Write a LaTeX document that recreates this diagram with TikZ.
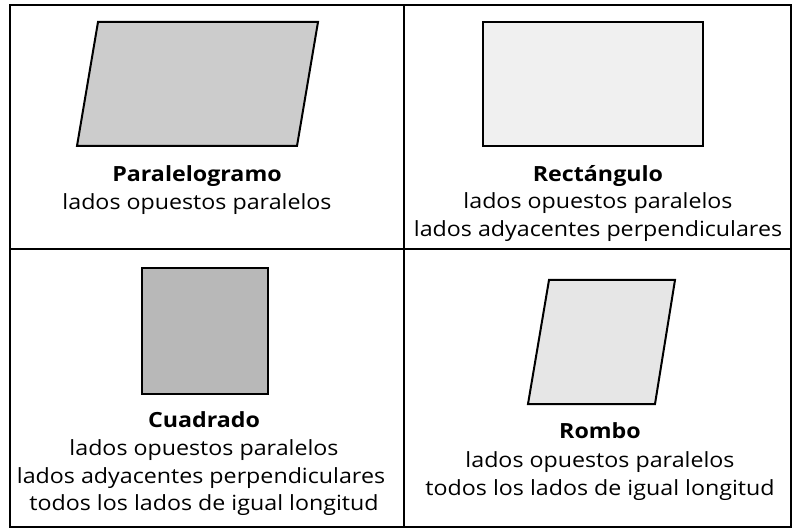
\documentclass[tikz,border=0pt]{standalone}
\usepackage{fontspec}
\setmainfont[FakeStretch=1.11]{Open Sans}
\begin{document}
\begin{tikzpicture}[x=1bp,y=-1bp,
  frame/.style={line width=2bp},
  shp/.style={draw,line width=2bp,line join=miter},
  txt/.style={anchor=base,inner sep=0pt,font=\fontsize{21}{24}\selectfont},
  ttl/.style={txt,font=\fontsize{21}{24}\selectfont\bfseries}]
\useasboundingbox (0,0) rectangle (793,529);
% grid
\draw[frame] (10,5) rectangle (791,527);
\draw[frame] (404,5) -- (404,527);
\draw[frame] (10,249) -- (791,249);
% shapes
\draw[shp,fill={rgb,255:red,204;green,204;blue,204}] (98,22) -- (318,22) -- (297,146) -- (77,146) -- cycle;
\draw[shp,fill={rgb,255:red,240;green,240;blue,240}] (483,22) rectangle (703,146);
\draw[shp,fill={rgb,255:red,184;green,184;blue,184}] (142,268) rectangle (268,394);
\draw[shp,fill={rgb,255:red,230;green,230;blue,230}] (549,280) -- (675,280) -- (655,404) -- (528,404) -- cycle;
% texts
\node[ttl] (p1) at (197,182) {Paralelogramo};
\node[txt] (p2) at (197,210) {lados opuestos paralelos};
\node[ttl] (r1) at (598,182) {Rectángulo};
\node[txt] (r2) at (598,209) {lados opuestos paralelos};
\node[txt] (r3) at (598,237) {lados adyacentes perpendiculares};
\node[ttl] (c1) at (204,427) {Cuadrado};
\node[txt] (c2) at (204,455) {lados opuestos paralelos};
\node[txt] (c3) at (201,483) {lados adyacentes perpendiculares};
\node[txt] (c4) at (204,510) {todos los lados de igual longitud};
\node[ttl] (h1) at (600,438) {Rombo};
\node[txt] (h2) at (600,467) {lados opuestos paralelos};
\node[txt] (h3) at (600,495) {todos los lados de igual longitud};
\end{tikzpicture}
\end{document}
